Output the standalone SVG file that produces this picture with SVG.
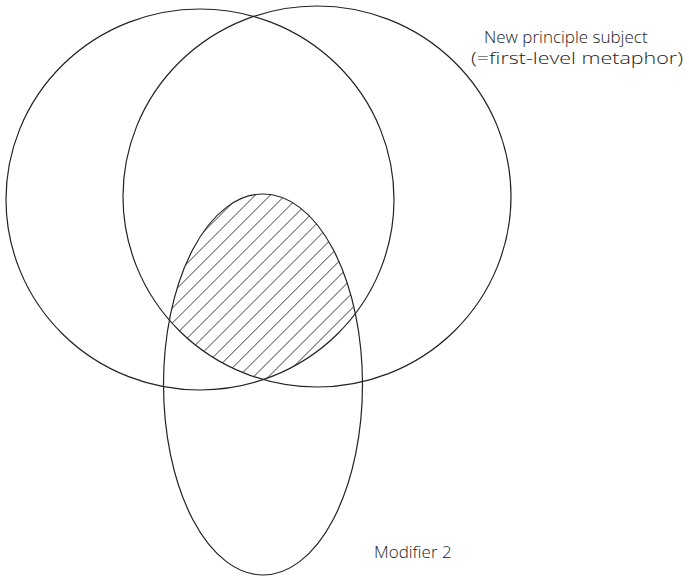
<svg xmlns="http://www.w3.org/2000/svg" width="689" height="576" viewBox="0 0 689 576">
<style>
.shape{fill:none;stroke:#222;stroke-width:1.2}
.lbl{font-family:"Open Sans","Liberation Sans",sans-serif;font-weight:300;font-size:17px;fill:#222}
</style>
<defs>
<pattern id="hatch" patternUnits="userSpaceOnUse" width="10.6" height="10.6" patternTransform="rotate(45)">
<line x1="0" y1="-1" x2="0" y2="12" stroke="#1a1a1a" stroke-width="1.3"/>
</pattern>
<clipPath id="clipL"><ellipse cx="200" cy="199.5" rx="194" ry="190.5"/></clipPath>
<clipPath id="clipR"><ellipse cx="317" cy="196.5" rx="194" ry="190.5"/></clipPath>
</defs>
<g id="hatched-region" clip-path="url(#clipL)">
<g clip-path="url(#clipR)">
<ellipse cx="263" cy="384.5" rx="99.5" ry="190.5" fill="url(#hatch)"/>
</g>
</g>
<g id="left-circle"><ellipse class="shape" cx="200" cy="199.5" rx="194" ry="190.5"/></g>
<g id="new-principle-subject"><ellipse class="shape" cx="317" cy="196.5" rx="194" ry="190.5"/>
<text class="lbl" x="484" y="43">New principle subject</text>
<text class="lbl" x="471" y="64" textLength="212" lengthAdjust="spacingAndGlyphs">(=first-level metaphor)</text>
</g>
<g id="modifier-2"><ellipse class="shape" cx="263" cy="384.5" rx="99.5" ry="190.5"/>
<text class="lbl" x="374" y="558">Modifier 2</text>
</g>
<g id="connectors"></g>
</svg>
